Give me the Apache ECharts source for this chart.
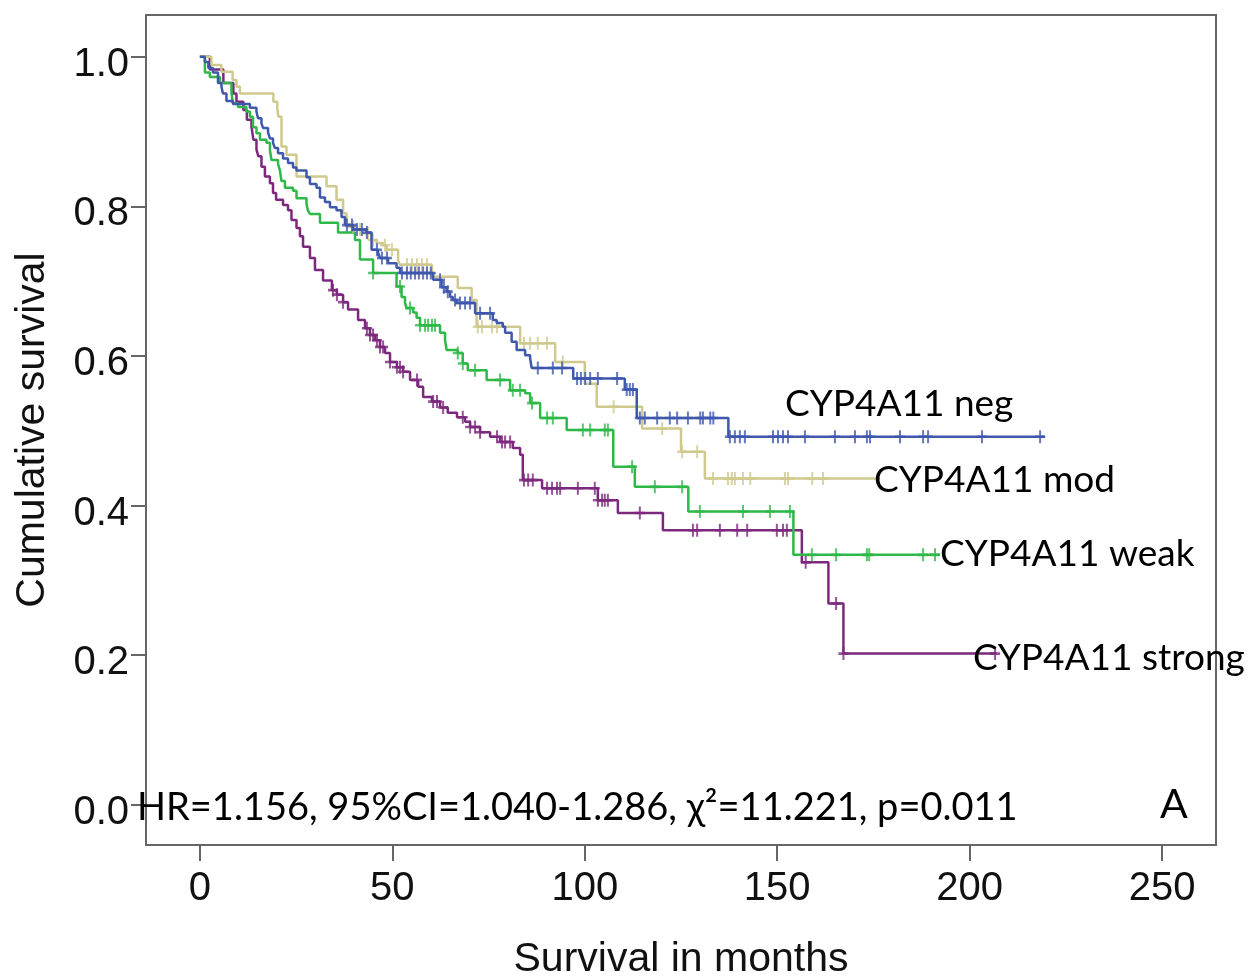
<!DOCTYPE html>
<html>
<head>
<meta charset="utf-8">
<title>CYP4A11 survival</title>
<script src="https://cdn.jsdelivr.net/npm/echarts@6/dist/echarts.min.js"></script>
<style>
  html, body { margin: 0; padding: 0; background: #fff; }
  #main { width: 1256px; height: 980px; }
</style>
</head>
<body>
<div id="main"></div>
<script>
// Kaplan-Meier steps, [months, cumulative survival after the drop]
const negSteps = [[0,1.0],[1.3,0.993],[2.2,0.985],[3.4,0.979],[4.7,0.965],[5.6,0.960],[6.0,0.951],[6.9,0.941],[8.6,0.937],[13.0,0.932],[14.7,0.927],[15.1,0.918],[16.0,0.911],[16.4,0.905],[17.7,0.899],[18.2,0.891],[19.0,0.885],[19.5,0.878],[20.3,0.871],[21.6,0.864],[22.9,0.858],[24.2,0.852],[25.1,0.848],[27.7,0.839],[28.6,0.830],[30.3,0.825],[31.2,0.812],[32.5,0.806],[33.8,0.799],[35.5,0.795],[36.8,0.786],[37.7,0.775],[39.8,0.769],[43.3,0.765],[44.6,0.742],[46.3,0.738],[46.8,0.731],[48.9,0.724],[51.1,0.718],[52.0,0.711],[60.6,0.702],[62.8,0.692],[64.1,0.686],[65.0,0.679],[65.7,0.675],[66.7,0.671],[71.5,0.657],[76.1,0.648],[77.1,0.644],[78.7,0.639],[79.3,0.631],[81.0,0.619],[82.3,0.608],[84.5,0.601],[85.8,0.597],[86.2,0.584],[97.0,0.570],[110.4,0.555],[113.5,0.517],[137.3,0.492],[219.6,0.492]];
const modSteps = [[0,1.0],[3.0,0.989],[5.6,0.980],[8.5,0.969],[9.5,0.960],[10.4,0.951],[19.1,0.940],[20.1,0.931],[20.4,0.920],[21.2,0.880],[22.5,0.869],[25.1,0.840],[32.9,0.827],[35.5,0.809],[37.2,0.791],[38.1,0.773],[40.7,0.769],[43.3,0.764],[44.6,0.755],[45.9,0.751],[47.6,0.748],[48.5,0.742],[51.5,0.728],[52.0,0.722],[60.3,0.706],[67.0,0.691],[70.6,0.675],[71.9,0.639],[83.2,0.617],[92.3,0.592],[100.0,0.563],[103.1,0.532],[114.9,0.503],[125.0,0.472],[131.2,0.436],[176.7,0.436]];
const weakSteps = [[0,1.0],[1.3,0.979],[2.6,0.973],[5.2,0.965],[8.2,0.952],[8.6,0.938],[9.9,0.933],[12.1,0.927],[13.0,0.920],[13.8,0.906],[14.7,0.898],[15.6,0.889],[17.3,0.885],[18.2,0.875],[18.6,0.862],[20.3,0.857],[20.8,0.848],[21.2,0.834],[22.1,0.825],[24.2,0.821],[25.1,0.811],[27.7,0.803],[28.1,0.794],[28.6,0.790],[31.2,0.778],[35.9,0.765],[40.3,0.755],[41.6,0.729],[45.0,0.711],[51.1,0.693],[52.4,0.679],[53.3,0.671],[53.7,0.664],[55.4,0.658],[56.3,0.651],[57.2,0.641],[62.4,0.631],[63.7,0.621],[64.1,0.608],[67.0,0.604],[68.3,0.590],[69.6,0.581],[74.5,0.568],[80.6,0.554],[84.5,0.550],[85.8,0.537],[88.4,0.517],[95.3,0.501],[107.4,0.452],[113.0,0.425],[126.9,0.392],[154.2,0.334],[192.3,0.334]];
const strongSteps = [[0,1.0],[2.6,0.983],[6.1,0.965],[8.7,0.951],[9.5,0.940],[11.3,0.929],[12.2,0.916],[13.4,0.907],[13.9,0.889],[14.7,0.876],[15.2,0.867],[16.0,0.853],[16.9,0.840],[18.2,0.831],[19.0,0.818],[19.8,0.809],[21.6,0.802],[22.9,0.795],[23.8,0.782],[25.1,0.771],[26.0,0.760],[26.8,0.746],[28.6,0.731],[29.9,0.715],[32.0,0.701],[34.3,0.688],[35.6,0.682],[37.2,0.672],[38.5,0.662],[41.1,0.648],[42.9,0.637],[44.2,0.628],[45.5,0.621],[46.8,0.612],[48.1,0.604],[49.4,0.592],[51.2,0.585],[52.8,0.579],[54.6,0.568],[56.7,0.559],[58.0,0.545],[60.3,0.539],[62.4,0.531],[64.4,0.524],[66.8,0.518],[68.9,0.512],[70.2,0.505],[72.8,0.498],[75.4,0.492],[78.0,0.485],[81.3,0.477],[83.2,0.468],[83.9,0.434],[88.9,0.423],[103.4,0.407],[108.6,0.390],[120.3,0.367],[156.4,0.324],[163.3,0.269],[167.2,0.202],[207.0,0.202]];

// censored cases, months
const negCensored = [38.2,39.5,40.8,42.1,43.4,46.0,47.3,48.6,52.5,53.8,54.8,55.9,56.9,58.0,59.0,60.0,62.4,63.4,64.4,66.3,67.6,68.9,70.2,72.8,75.4,87.8,91.7,94.1,98.0,99.0,100.1,101.4,103.4,108.4,110.9,111.7,112.5,114.3,115.6,118.8,122.1,124.0,126.8,130.0,130.7,132.6,133.4,137.7,139.0,140.3,141.6,148.9,150.2,151.5,152.8,157.2,165.0,170.2,173.3,174.1,181.9,187.9,189.2,203.2,218.3];
const modCensored = [39.8,41.6,43.7,45.0,48.1,49.9,53.8,55.1,56.4,57.7,59.0,72.2,73.3,75.9,77.2,84.2,85.8,87.8,90.2,94.3,107.5,120.1,125.3,129.2,133.3,137.2,138.2,139.0,141.1,143.0,152.0,152.8,159.1,161.9];
const weakCensored = [45.0,52.0,54.6,57.2,58.5,59.3,60.3,61.1,67.0,68.3,71.5,78.0,81.3,83.2,86.3,90.2,91.7,99.5,101.4,105.2,106.0,112.3,118.2,125.3,129.9,141.1,148.1,153.3,159.0,165.3,173.3,173.9,187.9,191.0];
const strongCensored = [34.6,35.6,37.2,43.4,44.2,45.0,46.0,46.8,47.6,49.4,51.2,52.0,52.8,56.4,60.6,61.6,63.2,68.3,70.2,71.5,72.8,77.2,78.5,79.3,80.6,84.2,85.3,86.5,90.2,91.5,92.8,93.6,98.2,102.6,103.4,104.5,105.2,106.0,114.3,128.1,129.2,135.1,139.6,142.2,149.9,151.5,152.5,157.4,165.3,167.2,206.6];

const groupNames = ['CYP4A11 neg', 'CYP4A11 mod', 'CYP4A11 weak', 'CYP4A11 strong'];
const groupColors = ['#3E58AC', '#CFC98E', '#2EB848', '#7C287D'];
const xTicks = [0, 50, 100, 150, 200, 250];
const yTicks = [0, 0.2, 0.4, 0.6, 0.8, 1.0];
const statsText = 'HR=1.156, 95%CI=1.040-1.286, χ²=11.221, p=0.011';

const plusSymbol = 'path://M4,0H6V4H10V6H6V10H4V6H0V4H4Z';

// survival value of a step curve at time t
function survivalAt(steps, t) {
  let s = steps[0][1];
  for (const p of steps) {
    if (p[0] <= t) s = p[1];
  }
  return s;
}

const allSteps = [negSteps, modSteps, weakSteps, strongSteps];
const allCensored = [negCensored, modCensored, weakCensored, strongCensored];

const series = [];
// draw order: strong, weak, mod, neg on top
[3, 2, 1, 0].forEach(function(i) {
  series.push({
    name: groupNames[i],
    type: 'line',
    step: 'end',
    symbol: 'none',
    data: allSteps[i],
    lineStyle: { color: groupColors[i], width: 2.5 },
    z: 2 + (3 - i)
  });
  series.push({
    name: groupNames[i] + ' censored',
    type: 'scatter',
    symbol: plusSymbol,
    symbolSize: [10, 13],
    data: allCensored[i].map(function(t) { return [t, survivalAt(allSteps[i], t)]; }),
    itemStyle: { color: groupColors[i] },
    z: 2 + (3 - i)
  });
});

const labelFont = 'Lato, "Open Sans", sans-serif';
const labelPos = [[785, 404], [874, 480], [940, 554], [973, 658]];

const chart = echarts.init(document.getElementById('main'));
chart.setOption({
  animation: false,
  backgroundColor: '#fff',
  grid: {
    left: 146, right: 40, top: 15, bottom: 135,
    outerBoundsMode: 'none',
    show: true, borderColor: '#666', borderWidth: 2
  },
  xAxis: {
    type: 'value',
    min: -14, max: 264,
    name: 'Survival in months',
    nameLocation: 'middle',
    nameGap: 94,
    nameTextStyle: { fontFamily: 'Liberation Sans, Arial', fontSize: 41, color: '#111' },
    axisLine: { show: false, onZero: false },
    splitLine: { show: false },
    axisTick: { show: true, length: 16, customValues: xTicks, lineStyle: { color: '#666', width: 2 } },
    axisLabel: {
      customValues: xTicks, margin: 24,
      fontFamily: 'Liberation Sans, Arial', fontSize: 40, color: '#111'
    }
  },
  yAxis: {
    type: 'value',
    min: -0.054, max: 1.056,
    name: 'Cumulative survival',
    nameLocation: 'middle',
    nameGap: 93,
    nameRotate: 90,
    nameTextStyle: { fontFamily: 'Liberation Sans, Arial', fontSize: 41, color: '#111' },
    axisLine: { show: false, onZero: false },
    splitLine: { show: false },
    axisTick: { show: true, length: 15, customValues: yTicks, lineStyle: { color: '#666', width: 2 } },
    axisLabel: {
      customValues: yTicks, margin: 17,
      formatter: function(v) { return '{v|' + v.toFixed(1) + '}'; },
      rich: {
        v: { fontFamily: 'Liberation Sans, Arial', fontSize: 40, color: '#111', padding: [16, 0, 0, 0] }
      }
    }
  },
  graphic: groupNames.map(function(n, i) {
    return {
      type: 'text', x: labelPos[i][0], y: labelPos[i][1], z: 100,
      style: { text: n, font: '37px ' + labelFont, fill: '#000', verticalAlign: 'middle' }
    };
  }).concat([
    {
      type: 'text', x: 137, y: 808, z: 100,
      style: { text: statsText, font: '38px ' + labelFont, fill: '#000', verticalAlign: 'middle' }
    },
    {
      type: 'text', x: 1160, y: 805, z: 100,
      style: { text: 'A', font: '41px ' + labelFont, fill: '#000', verticalAlign: 'middle' }
    }
  ]),
  series: series
});
</script>
</body>
</html>
